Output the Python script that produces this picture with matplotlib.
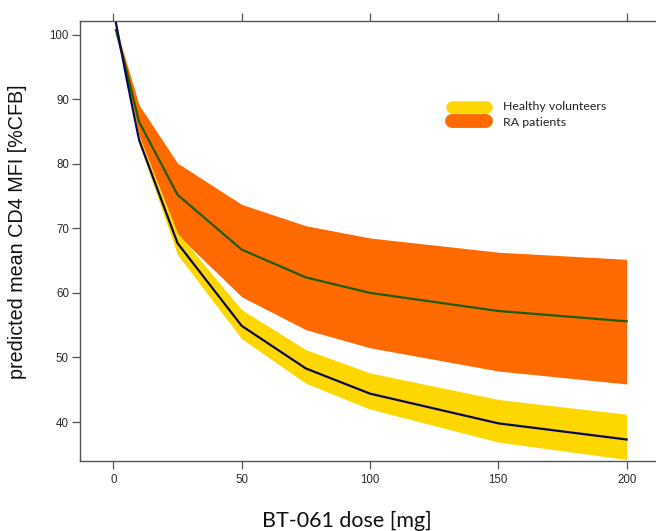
import numpy as np
import matplotlib.pyplot as plt
from matplotlib.lines import Line2D

# doses [mg]
dose = [1, 5, 10, 25, 50, 75, 100, 150, 200]

# healthy volunteers: mean and band
hv_mean = [101.8, 93.5, 83.7, 67.7, 54.9, 48.3, 44.4, 39.8, 37.3]
hv_lo = [101.3, 93.0, 83.1, 65.9, 52.9, 46.0, 42.0, 36.9, 34.2]
hv_hi = [102.2, 94.1, 84.3, 69.3, 57.4, 51.2, 47.6, 43.5, 41.2]

# RA patients: mean and band
ra_mean = [100.7, 94.6, 86.5, 75.2, 66.7, 62.4, 60.0, 57.2, 55.6]
ra_lo = [100.4, 93.6, 84.3, 69.0, 59.4, 54.3, 51.5, 47.9, 45.9]
ra_hi = [101.0, 95.8, 89.1, 80.1, 73.7, 70.4, 68.5, 66.3, 65.2]

xticks = [0, 50, 100, 150, 200]
yticks = [40, 50, 60, 70, 80, 90, 100]
legend_labels = ["Healthy volunteers", "RA patients"]

YELLOW = "#FFD700"
ORANGE = "#FF6A00"
spine_col = "#555555"

fig = plt.figure(figsize=(6.56, 5.31), dpi=100)
ax = fig.add_axes([80 / 656, 70 / 531, 582.6 / 656, 440 / 531])

ax.fill_between(dose, ra_lo, ra_hi, color=ORANGE, lw=0)
ax.fill_between(dose, hv_lo, hv_hi, color=YELLOW, lw=0)
ax.plot(dose, ra_mean, color="#1f5c00", lw=1.6)
ax.plot(dose, hv_mean, color="#0a0a50", lw=1.6)

ax.set_xlim(-13, 214)
ax.set_ylim(33.97, 102.1)

ax.spines["right"].set_visible(False)
for s in ["left", "bottom", "top"]:
    ax.spines[s].set_color(spine_col)
    ax.spines[s].set_linewidth(1.0)

ax.set_xticks(xticks)
ax.set_yticks(yticks)
ax.tick_params(axis="both", direction="out", length=5.5, width=0.9,
               color=spine_col, labelsize=8.3, labelcolor="#2a2a2a")
ax.tick_params(axis="x", top=True, labeltop=False, pad=4)
ax.tick_params(axis="y", pad=2.5)
for lab in ax.get_xticklabels() + ax.get_yticklabels():
    lab.set_family("Liberation Sans")

# legend drawn as rounded swatches
sw_x = [(452 - 80) / 582.6, (486 - 80) / 582.6]
ax.add_line(Line2D(sw_x, [1 - (107 - 21) / 440] * 2, transform=ax.transAxes,
                   color=YELLOW, lw=9, solid_capstyle="round"))
ax.add_line(Line2D(sw_x, [1 - (120.5 - 21) / 440] * 2, transform=ax.transAxes,
                   color=ORANGE, lw=10, solid_capstyle="round"))
for i, lab in enumerate(legend_labels):
    ax.text((503 - 80) / 582.6, 1 - (106 + 16.5 * i - 21) / 440, lab,
            transform=ax.transAxes, fontsize=8.9, family="Lato",
            color="#222222", va="center", ha="left")

fig.text(347 / 656, 4 / 531, "BT-061 dose [mg]", family="Lato",
         fontsize=15.5, ha="center", va="baseline", color="#111111")
fig.text(18 / 656, 1 - 232 / 531, "predicted mean CD4 MFI [%CFB]",
         family="Liberation Sans", fontsize=14.2, rotation=90,
         ha="center", va="center", color="#111111")

fig.savefig("out.png", dpi=100)
